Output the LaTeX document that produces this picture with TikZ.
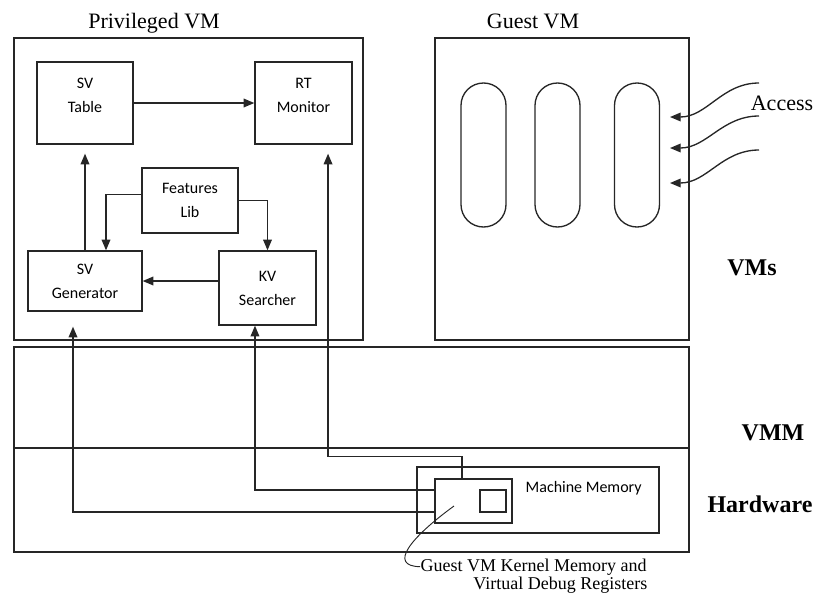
\documentclass[tikz,border=0pt]{standalone}
\usepackage{fontspec}
\setmainfont{Liberation Serif}
\newfontfamily\carl{Carlito}
\usetikzlibrary{arrows.meta}

\begin{document}
\begin{tikzpicture}[x=0.75pt, y=-0.75pt, line width=1pt, draw=black!85,
box/.style={draw, rectangle, inner sep=0pt},
lbl/.style={font=\carl\fontsize{12}{18}\selectfont, align=center},
title/.style={font=\fontsize{16.5}{20}\selectfont, anchor=base},
layer/.style={font=\bfseries\fontsize{18}{22}\selectfont, anchor=base},
pill/.style={draw, rectangle, rounded corners=16.8pt, minimum width=33.75pt, minimum height=108pt},
arr/.style={-{Triangle[length=8pt,width=6.5pt]}},
note/.style={font=\fontsize{13.5}{16}\selectfont, inner sep=0pt}]
\useasboundingbox (0,0) rectangle (818,593);

% layers
\node[box, minimum width=261.75pt, minimum height=226.5pt] (priv) at (188.5,189) {};
\node[box, minimum width=190.5pt, minimum height=226.5pt] (guest) at (562,189) {};
\node[box, minimum width=506.25pt, minimum height=75.75pt] (vmm) at (351.5,397.5) {};
\node[box, minimum width=506.25pt, minimum height=78pt] (hw) at (351.5,500) {};
\node[title] (privt) at (154,28) {Privileged VM};
\node[title] (guestt) at (533,28) {Guest VM};
\node[layer] (vmsl) at (752,275) {VMs};
\node[layer] (vmml) at (773,440) {VMM};
\node[layer] (hwl) at (760,512) {Hardware};

% privileged VM
\node[box, minimum width=72pt, minimum height=61.5pt] (tab) at (85,103) {};
\node[lbl] (tabl) at (85,95) {SV\\Table};
\node[box, minimum width=72.75pt, minimum height=61.5pt] (mon) at (303.5,103) {};
\node[lbl] (monl) at (303.5,95) {RT\\Monitor};
\node[box, lbl, minimum width=72pt, minimum height=48.75pt] (lib) at (190,200.5) {Features\\Lib};
\node[box, lbl, minimum width=85.5pt, minimum height=45pt] (gen) at (85,281) {SV\\Generator};
\node[box, lbl, minimum width=72.75pt, minimum height=55.5pt] (srch) at (267.5,288) {KV\\Searcher};

\draw[arr] (tab.east) -- (mon.west);
\draw[arr, shorten >=6.75pt] (gen.north) -- (tab.south);
\draw[arr] ([yshift=4.5pt]lib.west) -| ([xshift=15.75pt]gen.north);
\draw[arr] (lib.east) -| (srch.north);
\draw[arr] (gen.east -| srch.west) -- (gen.east);

% guest VM
\node[pill] (p1) at (483.5,155) {};
\node[pill] (p2) at (557.5,155) {};
\node[pill] (p3) at (637,155) {};
\node[title] (acc) at (782,110) {Access};
\coordinate (a1) at (759,83);
\coordinate (a2) at (759,116);
\coordinate (a3) at (759,150);
\coordinate (t1) at (670,117);
\coordinate (t2) at (670,148);
\coordinate (t3) at (670,183);
\draw[arr] (a1) to[out=180, in=0] (t1);
\draw[arr] (a2) to[out=180, in=0] (t2);
\draw[arr] (a3) to[out=180, in=0] (t3);

% hardware
\node[box, minimum width=181.5pt, minimum height=49.5pt] (mem) at (538,500) {};
\node[lbl, anchor=base west, inner sep=0pt] (meml) at (525,492) {Machine Memory};
\node[box, minimum width=57.75pt, minimum height=33pt] (gkm) at (473.5,501) {};
\node[box, minimum width=19.5pt, minimum height=16.5pt] (dbg) at (493,501) {};

\draw[arr, shorten >=11.25pt] ([yshift=-8.25pt]gkm.west) -| ([xshift=-9pt]gen.south);
\draw[arr] ([yshift=8.25pt]gkm.west) -| ([xshift=-9.4pt]srch.south);
\draw[arr, shorten >=6.75pt] ([xshift=-8.6pt]gkm.north) -- ++(0,-22) -| ([xshift=18.4pt]mon.south);

% kernel memory note
\node[note, anchor=base west] (kern1) at (420,571) {Guest VM Kernel Memory and};
\node[note, anchor=base east] (kern2) at (648,589) {Virtual Debug Registers};
\coordinate (kp) at (454,506);
\draw[line width=0.7pt] (kp) .. controls (410,538) and (388,566) .. (kern1.west);
\end{tikzpicture}
\end{document}
